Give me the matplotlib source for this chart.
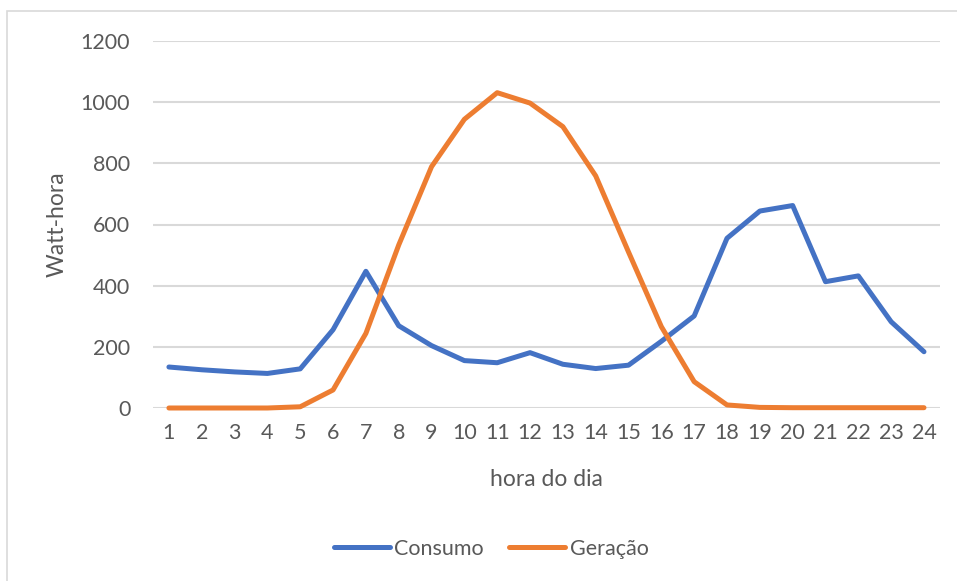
import matplotlib
matplotlib.use("Agg")
import matplotlib.pyplot as plt
from matplotlib.patches import Rectangle

hours = list(range(1, 25))
consumo = [134, 125, 118, 113, 128, 256, 447, 269, 204, 155, 148, 181, 143, 129, 140, 218,
           301, 555, 644, 662, 413, 432, 282, 184]
geracao = [0, 0, 0, 0, 4, 59, 244, 533, 789, 944, 1031, 997, 920, 759, 510, 266,
           86, 10, 2, 1, 1, 1, 1, 1]
yticks = [0, 200, 400, 600, 800, 1000, 1200]

plt.rcParams['font.family'] = ['Lato', 'DejaVu Sans']
W, H = 957, 581
fig = plt.figure(figsize=(W / 100, H / 100), dpi=100)
fig.patch.set_facecolor('white')

# chart border (Excel chart area), clipped at right/bottom
fig.patches.append(Rectangle((7 / W, -0.1), 2.0, 1 - 11 / H + 0.1, transform=fig.transFigure,
                             fill=False, edgecolor='#D9D9D9', linewidth=1.2))

ax = fig.add_axes([152.5 / W, (H - 408) / H, (940.4 - 152.5) / W, (408 - 41) / H])
ax.plot(hours, consumo, color='#4472C4', linewidth=3.6, label='Consumo', solid_capstyle='round',
        solid_joinstyle='round', zorder=3)
ax.plot(hours, geracao, color='#ED7D31', linewidth=3.6, label='Geração', solid_capstyle='round',
        solid_joinstyle='round', zorder=3)

ax.set_xlim(0.5, 24.5)
ax.set_ylim(0, 1200)
ax.set_xticks(hours)
ax.set_xticklabels([str(h) for h in hours])
ax.set_yticks(yticks)
ax.set_yticklabels([str(v) for v in yticks])
ax.yaxis.grid(True, color='#D9D9D9', linewidth=1.5)
ax.set_axisbelow(True)
for s in ax.spines.values():
    s.set_visible(False)
ax.tick_params(axis='both', length=0, labelsize=15.5, labelcolor='#595959')
ax.tick_params(axis='y', pad=16)
ax.tick_params(axis='x', pad=11)
for line in ax.lines:
    line.set_clip_on(False)

ax.set_ylabel('Watt-hora', fontsize=16.5, color='#595959')
ax.yaxis.set_label_coords(-0.108, 0.5)
ax.set_xlabel('hora do dia', fontsize=16.5, color='#595959')
ax.xaxis.set_label_coords(0.5, -0.165)

leg = fig.legend(loc='center', bbox_to_anchor=(491 / W, 1 - 549 / H), ncol=2, frameon=False,
                 fontsize=15.5, handlelength=2.6, handletextpad=0.2, columnspacing=1.2)
for t in leg.get_texts():
    t.set_color('#595959')

fig.savefig('out.png', dpi=100, facecolor='white')
